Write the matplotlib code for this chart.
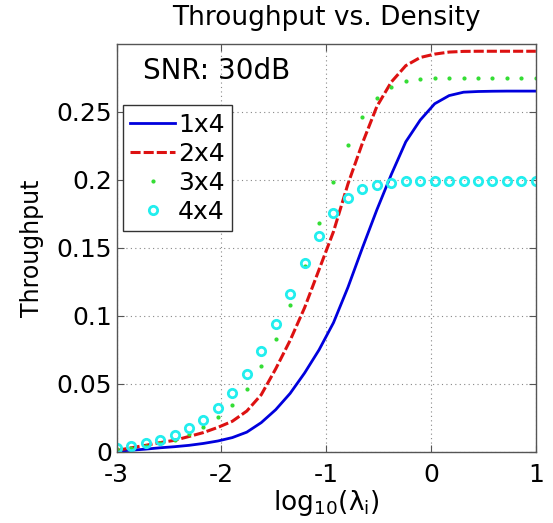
import numpy as np
import matplotlib
matplotlib.use("Agg")
import matplotlib.pyplot as plt

plt.rcParams['font.family'] = ['DejaVu Sans']
plt.rcParams['mathtext.fontset'] = 'dejavusans'

# Data: 30 points on log10(lambda) from -3 to 1
x = np.linspace(-3, 1, 30)

thr_1x4 = [0.0005, 0.0012, 0.002, 0.003, 0.0038, 0.0048, 0.0062, 0.008, 0.0105, 0.0145,
           0.0215, 0.031, 0.043, 0.058, 0.075, 0.095, 0.121, 0.150, 0.178, 0.204,
           0.228, 0.244, 0.256, 0.262, 0.2645, 0.265, 0.2652, 0.2653, 0.2653, 0.2653]
thr_2x4 = [0.001, 0.003, 0.0048, 0.0068, 0.0085, 0.0113, 0.0142, 0.018, 0.0225, 0.030,
           0.042, 0.061, 0.082, 0.106, 0.134, 0.162, 0.197, 0.227, 0.254, 0.272,
           0.284, 0.290, 0.2925, 0.294, 0.2945, 0.2946, 0.2946, 0.2946, 0.2946, 0.2946]
thr_3x4 = [0.002, 0.003, 0.0045, 0.0065, 0.009, 0.013, 0.0184, 0.0253, 0.0343, 0.0466,
           0.0632, 0.0833, 0.1078, 0.137, 0.168, 0.1985, 0.2254, 0.2462, 0.260, 0.268,
           0.2727, 0.2742, 0.2749, 0.275, 0.275, 0.275, 0.275, 0.275, 0.275, 0.275]
thr_4x4 = [0.0029, 0.0042, 0.0062, 0.0088, 0.0123, 0.0172, 0.0238, 0.0323, 0.0434, 0.0576,
           0.074, 0.0944, 0.1164, 0.1387, 0.159, 0.1755, 0.1865, 0.193, 0.1965, 0.198,
           0.199, 0.199, 0.199, 0.199, 0.199, 0.199, 0.199, 0.199, 0.199, 0.199]

xticks = [-3, -2, -1, 0, 1]
yticks = [0, 0.05, 0.1, 0.15, 0.2, 0.25]
ytick_labels = ['0', '0.05', '0.1', '0.15', '0.2', '0.25']

fig = plt.figure(figsize=(5.53, 5.23), dpi=100)
ax = fig.add_axes([0.211, 0.136, 0.758, 0.779])

ax.plot(x, thr_1x4, '-', color='#0000dd', lw=2.0, label='1x4')
ax.plot(x, thr_2x4, '--', color='#dd1111', lw=2.2, dashes=(3.3, 1.0), label='2x4')
ax.plot(x, thr_3x4, '.', color='#33dd33', ms=4, label='3x4')
ax.plot(x, thr_4x4, 'o', color='#22eeee', mfc='none', mec='#22eeee', ms=6, mew=2.0,
        label='4x4')

ax.set_xlim(-3, 1)
ax.set_ylim(0, 0.2996)
ax.set_xticks(xticks)
ax.set_xticklabels([str(t) for t in xticks])
ax.set_yticks(yticks)
ax.set_yticklabels(ytick_labels)
ax.tick_params(direction='in', length=5, width=0.8, labelsize=18, colors='#555555',
               labelcolor='black', top=True, right=True)
ax.tick_params(axis='x', pad=8)
ax.tick_params(axis='y', pad=3.5)
for s in ax.spines.values():
    s.set_color('#555555')
    s.set_linewidth(1.0)
ax.grid(True, linestyle=(0, (1, 3)), color='#888888', linewidth=0.8)

ax.set_title('Throughput vs. Density', fontsize=19, pad=14)
ax.set_ylabel('Throughput', fontsize=17, labelpad=9)
ax.set_xlabel(r'$\mathregular{log_{10}(\lambda_i)}$', fontsize=19, labelpad=1)

ax.text(-2.75, 0.2798, 'SNR: 30dB', fontsize=20, va='center', ha='left')

leg = ax.legend(loc='upper left', bbox_to_anchor=(0.015, 0.851), borderaxespad=0,
                fontsize=18, fancybox=False, framealpha=1, edgecolor='#333333',
                handlelength=1.8, handletextpad=0.1, labelspacing=0.2, borderpad=0.3)
leg.get_frame().set_linewidth(1.0)

fig.savefig('out.png', dpi=100)
